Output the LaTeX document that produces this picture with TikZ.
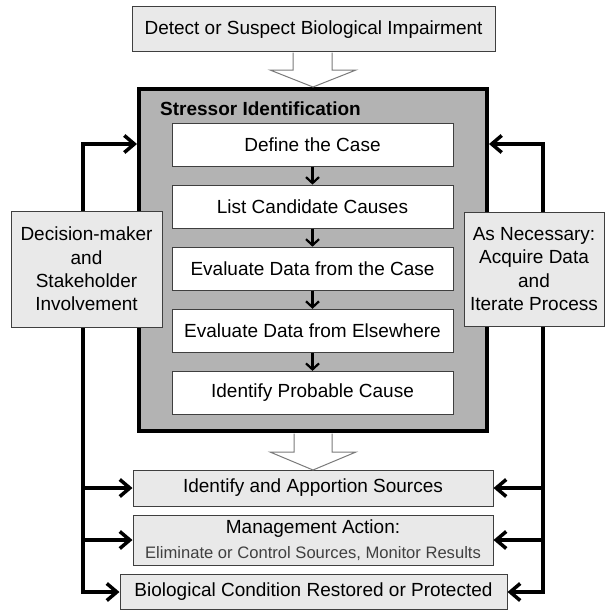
\documentclass[tikz,border=0pt]{standalone}
\usepackage{fontspec}
\setmainfont{Liberation Sans}
\usetikzlibrary{arrows.meta}
\definecolor{boxfill}{HTML}{E9E9E9}
\definecolor{bigfill}{HTML}{B3B3B3}
\definecolor{edgegray}{HTML}{3F3F3F}
\definecolor{hollowedge}{HTML}{7A7A7A}
\definecolor{subtext}{HTML}{404040}
\begin{document}
\begin{tikzpicture}[x=1pt,y=-1pt,
 lightbox/.style={draw=edgegray,line width=1pt,fill=boxfill,inner sep=0pt,align=center,font=\fontsize{19}{23.3}\selectfont},
 stepbox/.style={draw=edgegray,line width=1pt,fill=white,minimum width=281pt,minimum height=43pt,inner sep=0pt,font=\fontsize{19}{23}\selectfont},
 bigbox/.style={draw=black,line width=4pt,fill=bigfill,minimum width=348pt,minimum height=342pt,inner sep=0pt},
 conn/.style={line width=3.5pt,-{Straight Barb[length=10pt,width=17pt]}},
 smallarrow/.style={line width=2.2pt,-{Straight Barb[length=6pt,width=13pt]}},
 hollow/.style={draw=hollowedge,line width=1pt,fill=white}]
\useasboundingbox[fill=white] (0,0) rectangle (605,610);
% top box
\node[lightbox,minimum width=363pt,minimum height=45pt] (top) at (313.5,29.5) {Detect or Suspect Biological Impairment};
% big box
\node[bigbox] (si) at (313,260) {};
\node[anchor=west,inner sep=0pt,font=\bfseries\fontsize{19}{23}\selectfont] (title) at (160,109) {Stressor Identification};
\node[stepbox] (s1) at (312.5,144.5) {Define the Case};
\node[stepbox] (s2) at (312.5,206.6) {List Candidate Causes};
\node[stepbox] (s3) at (312.5,268.7) {Evaluate Data from the Case};
\node[stepbox] (s4) at (312.5,330.8) {Evaluate Data from Elsewhere};
\node[stepbox] (s5) at (312.5,392.9) {Identify Probable Cause};
\draw[smallarrow] (s1) -- (s2);
\draw[smallarrow] (s2) -- (s3);
\draw[smallarrow] (s3) -- (s4);
\draw[smallarrow] (s4) -- (s5);
% bottom boxes
\node[lightbox,minimum width=360pt,minimum height=36pt] (ia) at (313,488) {Identify and Apportion Sources};
\node[lightbox,minimum width=360pt,minimum height=50pt,font=\fontsize{19}{25.5}\selectfont] (ma) at (313,540) {Management Action:\\\fontsize{16.6}{25.5}\selectfont\color{subtext}Eliminate or Control Sources, Monitor Results};
\node[lightbox,minimum width=387pt,minimum height=35pt] (bc) at (313.5,592) {Biological Condition Restored or Protected};
% feedback connectors
\coordinate (lt) at (83,144);
\coordinate (lb) at (83,592);
\coordinate (rt) at (543,144);
\coordinate (rb) at (543,592);
\draw[conn] (lb) -- (lt) -- (lt -| si.west);
\draw[conn] (lt) -- (lb) -- (bc.west);
\draw[conn] (lt |- ia.west) -- (ia.west);
\draw[conn] (lt |- ma.west) -- (ma.west);
\draw[conn] (rb) -- (rt) -- (rt -| si.east);
\draw[conn] (rt) -- (rb) -- (bc.east);
\draw[conn] (rt |- ia.east) -- (ia.east);
\draw[conn] (rt |- ma.east) -- (ma.east);
% side boxes
\node[lightbox,minimum width=151pt,minimum height=116pt] (dm) at (86.5,269) {Decision-maker\\and\\Stakeholder\\Involvement};
\node[lightbox,minimum width=140pt,minimum height=114pt] (an) at (534,269) {As Necessary:\\Acquire Data\\and\\Iterate Process};
% hollow block arrows
\draw[hollow] (293,52.6) -- (293,70) -- (270,70) -- (313,87) -- (356,70) -- (332,70) -- (332,52.6);
\draw[hollow] (294,433.5) -- (294,452) -- (270,452) -- (313,470) -- (356,452) -- (332,452) -- (332,433.5);
\end{tikzpicture}
\end{document}
